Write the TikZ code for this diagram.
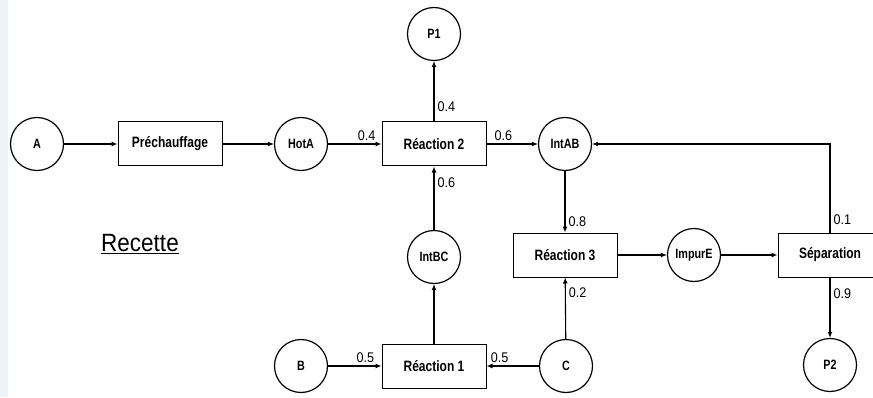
\documentclass[tikz,border=0pt]{standalone}
\usepackage{fontspec}
\setmainfont{Liberation Sans}
\newfontfamily\condsans[FakeStretch=0.8]{Liberation Sans}
\newfontfamily\numsans[FakeStretch=0.9]{Liberation Sans}
\usetikzlibrary{arrows.meta}
\definecolor{stripblue}{HTML}{EEF3FA}

\begin{document}
\begin{tikzpicture}[->,
					>={Latex[length=6pt,width=5pt]},
					x=1pt,y=1pt,
					line width=1.1pt,
					main node/.style={circle,draw,line width=1.2pt,minimum size=53pt,inner sep=0pt,
						font=\condsans\bfseries\fontsize{13.5}{15}\selectfont},
					proc node/.style={rectangle,draw,line width=1pt,minimum width=104pt,minimum height=44pt,
						font=\condsans\bfseries\fontsize{15}{17}\selectfont},
					flow/.style={font=\numsans\fontsize{14}{16}\selectfont,inner sep=3pt}]

  \useasboundingbox (0,0) rectangle (873,397);
  \clip (0,0) rectangle (873,397);
  \fill[stripblue] (0,0) rectangle (8,397);

  % ligne du haut
  \node[main node] (A) at (37,253) {A};
  \node[proc node] (Pre) [right of=A, node distance=133pt] {Préchauffage};
  \node[main node] (HotA) [right of=Pre, node distance=131pt] {HotA};
  \node[proc node] (R2) [right of=HotA, node distance=133pt] {Réaction 2};
  \node[main node] (IntAB) [right of=R2, node distance=131pt] {IntAB};
  \node[main node] (P1) [above of=R2, node distance=110pt] {P1};

  % colonne du milieu
  \node[main node] (IntBC) [below of=R2, node distance=113pt] {IntBC};
  \node[proc node] (R1) [below of=IntBC, node distance=109pt] {Réaction 1};
  \node[main node] (B) [left of=R1, node distance=133pt] {B};
  \node[main node] (C) [right of=R1, node distance=132pt] {C};

  % partie droite
  \node[proc node] (R3) [below of=IntAB, node distance=111pt] {Réaction 3};
  \node[main node] (ImpurE) [right of=R3, node distance=129pt] {ImpurE};
  \node[proc node] (Sep) [right of=ImpurE, node distance=136pt] {Séparation};
  \node[main node] (P2) [below of=Sep, node distance=110pt] {P2};

  \node[font=\numsans\fontsize{25}{28}\selectfont] (recette) at (140,153) {\underline{Recette}};

  \path[every node/.style={flow}]
    (A) edge (Pre)
    (Pre) edge (HotA)
    (HotA) edge node[above, pos=0.72] {0.4} (R2)
    (R2) edge node[right, pos=0.25] {0.4} (P1)
         edge node[above, pos=0.33] {0.6} (IntAB)
    (IntBC) edge node[right, pos=0.75] {0.6} (R2)
    (R1) edge (IntBC)
    (B) edge node[above, pos=0.7] {0.5} (R1)
    (C) edge node[above, pos=0.75] {0.5} (R1)
        edge node[right, pos=0.75] {0.2} (R3)
    (IntAB) edge node[right, pos=0.82] {0.8} (R3)
    (R3) edge (ImpurE)
    (ImpurE) edge (Sep)
    (Sep) edge node[right, pos=0.27] {0.9} (P2);

  \draw (Sep) |- node[right, pos=0.07, flow] {0.1} (IntAB);
\end{tikzpicture}
\end{document}
